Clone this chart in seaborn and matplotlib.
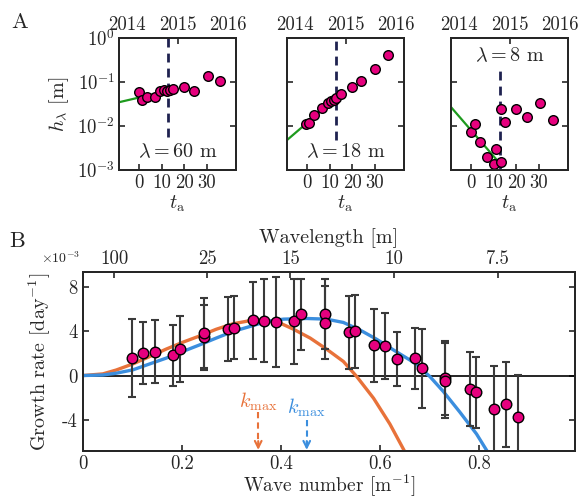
import numpy as np
import pandas as pd
import matplotlib
matplotlib.use("Agg")
import matplotlib.pyplot as plt
import seaborn as sns

# ---------------- Panel A data ----------------
t60 = [-0.3, 1.2, 3.4, 6.8, 9.3, 11.1, 12.3, 13.8, 15.0, 19.7, 24.4, 30.4, 36.0]
h60 = [0.0589, 0.0380, 0.0468, 0.0447, 0.0631, 0.0661, 0.0631, 0.0661, 0.0708, 0.0759, 0.0631, 0.138, 0.107]
t18 = [-0.7, 0.7, 3.0, 6.4, 9.3, 10.4, 11.9, 12.9, 14.8, 19.7, 24.0, 30.1, 36.0]
h18 = [0.0110, 0.0120, 0.0178, 0.0251, 0.0339, 0.0372, 0.0389, 0.0427, 0.0537, 0.0776, 0.105, 0.200, 0.417]
t8 = [-0.3, 1.6, 3.8, 7.1, 10.0, 11.2, 13.0, 13.3, 15.2, 20.1, 24.6, 30.5, 36.4]
h8 = [0.00741, 0.0112, 0.00427, 0.00200, 0.00135, 0.00302, 0.00155, 0.0245, 0.0123, 0.0245, 0.0162, 0.0339, 0.0138]
fit_t = [-9.0, 12.7]
fit60 = [0.0347, 0.0631]
fit18 = [0.00479, 0.0427]
fit8 = [0.0269, 0.00141]
t_dash = 12.7
dash_span = [(0.00575, 1.0), (0.0048, 1.0), (0.001, 0.186)]
lambdas = ["60", "18", "8"]
ta_ticks = [0, 10, 20, 30]
year_ticks = [-5.4, 17, 39.4]
year_labels = ["2014", "2015", "2016"]
h_ticks = [1e-3, 1e-2, 1e-1, 1e0]
h_labels = [r"$10^{-3}$", r"$10^{-2}$", r"$10^{-1}$", r"$10^{0}$"]

# ---------------- Panel B data ----------------
k = [0.0997, 0.122, 0.145, 0.182, 0.196, 0.245, 0.245, 0.292, 0.306, 0.343, 0.366, 0.390,
     0.427, 0.440, 0.489, 0.489, 0.537, 0.549, 0.587, 0.611, 0.635, 0.671, 0.684, 0.731,
     0.731, 0.782, 0.794, 0.831, 0.855, 0.879]
g = [1.58, 2.03, 2.18, 1.82, 2.43, 3.49, 3.85, 4.24, 4.36, 5.00, 4.97, 4.85,
     4.91, 5.58, 5.58, 4.79, 3.91, 4.00, 2.73, 2.67, 1.49, 1.55, 0.67, -0.21,
     -0.48, -1.21, -1.51, -3.03, -2.60, -3.78]
gerr = [3.53, 2.80, 2.86, 2.76, 2.98, 2.95, 3.20, 2.88, 2.90, 3.50, 3.77, 4.07,
        3.85, 3.22, 3.21, 3.30, 3.30, 3.28, 3.29, 3.00, 2.48, 2.79, 3.60, 3.36,
        3.40, 3.38, 3.23, 3.91, 3.87, 3.84]
k_or = [0.0, 0.04, 0.067, 0.101, 0.135, 0.168, 0.202, 0.236, 0.269, 0.303, 0.337, 0.354,
        0.391, 0.425, 0.459, 0.492, 0.526, 0.553, 0.587, 0.620, 0.650, 0.665]
g_or = [0.0, 0.15, 0.50, 1.06, 1.73, 2.40, 3.03, 3.60, 4.20, 4.70, 4.98, 5.04,
        4.91, 4.21, 3.40, 2.40, 1.28, -0.09, -2.06, -4.40, -6.90, -8.3]
k_bl = [0.0, 0.04, 0.067, 0.101, 0.135, 0.168, 0.202, 0.236, 0.269, 0.303, 0.337, 0.371,
        0.405, 0.452, 0.492, 0.526, 0.559, 0.593, 0.627, 0.660, 0.674, 0.701, 0.728,
        0.761, 0.795, 0.817, 0.83]
g_bl = [0.0, 0.05, 0.21, 0.52, 1.06, 1.58, 2.19, 2.79, 3.40, 4.00, 4.45, 4.91,
        5.12, 5.18, 5.12, 4.82, 4.15, 3.30, 2.33, 1.42, 1.00, -0.10, -1.45,
        -3.30, -5.30, -6.90, -7.9]
kmax_or, kmax_bl = 0.354, 0.452
arrow_or = (-3.3, -6.75)
arrow_bl = (-4.0, -6.75)
label_y_or, label_y_bl = -2.4, -2.95
k_ticks = [0, 0.2, 0.4, 0.6, 0.8]
k_labels = ["0", "0.2", "0.4", "0.6", "0.8"]
g_ticks = [-4, 0, 4, 8]
g_labels = ["-4", "0", "4", "8"]
wl_ticks = [100, 25, 15, 10, 7.5]
wl_labels = ["100", "25", "15", "10", "7.5"]

PINK = "#E6007E"
GREEN = "#1E9A1E"
NAVY = "#1F2250"
ORANGE = "#E8723A"
BLUE = "#3B8EDE"
ERR = "#3A3A3A"

sns.set_style("ticks")
plt.rcParams["font.family"] = ["cmr10", "DejaVu Serif"]
plt.rcParams["mathtext.fontset"] = "cm"
plt.rcParams["axes.formatter.use_mathtext"] = True
plt.rcParams["axes.linewidth"] = 1.4
plt.rcParams["axes.unicode_minus"] = False

W, H = 582, 498
fig = plt.figure(figsize=(W / 100, H / 100), dpi=100)

TICK_FS = 13.5
LAB_FS = 14.5

def fx(px):
    return px / W

def fy(py):
    return 1 - py / H

panel_lefts = [119, 287, 451]
series = [(t60, h60, fit60), (t18, h18, fit18), (t8, h8, fit8)]
text_y = [0.14, 0.14, 0.865]
for i, (left, (tt, hh, ff)) in enumerate(zip(panel_lefts, series)):
    ax = fig.add_axes([fx(left), fy(170), 117 / W, 132 / H])
    ax.set_yscale("log")
    ax.set_xlim(-9, 43)
    ax.set_ylim(1e-3, 1e0)
    lo, hi = dash_span[i]
    ax.vlines(t_dash, lo, hi, colors=NAVY, linestyles=(0, (3.2, 2.2)), lw=2.0, zorder=2)
    sns.lineplot(x=fit_t, y=ff, ax=ax, color=GREEN, lw=1.6, sort=False, zorder=2.5)
    sns.scatterplot(x=tt, y=hh, ax=ax, color=PINK, edgecolor="black", linewidth=1.0,
                    s=48, zorder=3, legend=False)
    ax.set_xticks(ta_ticks)
    ax.set_xticklabels([str(v) for v in ta_ticks])
    ax.set_yticks(h_ticks)
    ax.yaxis.set_minor_locator(matplotlib.ticker.NullLocator())
    if i == 0:
        ax.set_yticklabels(h_labels)
        ax.set_ylabel(r"$h_\lambda$ [m]", fontsize=LAB_FS, labelpad=4)
    else:
        ax.set_yticklabels([])
    ax.tick_params(axis="both", direction="in", length=4, width=1.2, labelsize=TICK_FS,
                   right=True, pad=3)
    ax.tick_params(axis="x", bottom=False)
    ax.set_xlabel(r"$t_\mathrm{a}$", fontsize=LAB_FS, labelpad=1)
    ax.text(0.5, text_y[i], r"$\lambda = %s$ m" % lambdas[i], transform=ax.transAxes,
            ha="center", va="center", fontsize=LAB_FS)
    top = ax.twiny()
    top.set_xlim(ax.get_xlim())
    top.set_xticks(year_ticks)
    top.set_xticklabels(year_labels)
    top.tick_params(axis="x", direction="in", length=4, width=1.2, labelsize=TICK_FS, pad=3)
    mt = top.xaxis.get_major_ticks()
    for j in (0, 2):
        mt[j].tick1line.set_visible(False)
        mt[j].tick2line.set_visible(False)
    for s in top.spines.values():
        s.set_linewidth(1.4)

fig.text(fx(20), fy(22), "A", fontsize=16, ha="center", va="center")
fig.text(fx(17), fy(241), "B", fontsize=16, ha="center", va="center")

# ---------------- Panel B ----------------
axb = fig.add_axes([fx(83), fy(451), 492 / W, 179 / H])
axb.set_xlim(0, 0.994)
axb.set_ylim(-6.85, 9.4)
axb.axhline(0, color="black", lw=1.2, zorder=1)
sns.lineplot(x=k_or, y=g_or, ax=axb, color=ORANGE, lw=2.4, sort=False, zorder=2)
sns.lineplot(x=k_bl, y=g_bl, ax=axb, color=BLUE, lw=2.4, sort=False, zorder=2)
axb.errorbar(k, g, yerr=gerr, fmt="none", ecolor=ERR, elinewidth=1.5, capsize=3,
             capthick=1.5, zorder=2.5)
sns.scatterplot(x=k, y=g, ax=axb, color=PINK, edgecolor="black", linewidth=1.0,
                s=58, zorder=3, legend=False)
for kk, (a0, a1), ly, col in [(kmax_or, arrow_or, label_y_or, ORANGE),
                              (kmax_bl, arrow_bl, label_y_bl, BLUE)]:
    axb.plot([kk, kk], [a0, a1 + 0.4], color=col, ls=(0, (3, 2)), lw=1.5)
    axb.annotate("", xy=(kk, a1), xytext=(kk, a1 + 0.8),
                 arrowprops=dict(arrowstyle="->", color=col, lw=1.5,
                                 mutation_scale=12, shrinkA=0, shrinkB=0))
    axb.text(kk, ly, r"$k_\mathrm{max}$", color=col, ha="center", va="center",
             fontsize=LAB_FS)
axb.set_xticks(k_ticks)
axb.set_xticklabels(k_labels)
axb.set_yticks(g_ticks)
axb.set_yticklabels(g_labels)
axb.tick_params(axis="both", direction="in", length=4, width=1.2, labelsize=TICK_FS,
                right=True, pad=4)
axb.tick_params(axis="x", pad=3)
axb.set_xlabel(r"Wave number [m$^{-1}$]", fontsize=14, labelpad=0)
axb.set_ylabel(r"Growth rate [day$^{-1}$]", fontsize=LAB_FS, labelpad=6)
axb.text(-0.085, 1.035, r"$\times10^{-3}$", transform=axb.transAxes, ha="left",
         va="bottom", fontsize=10)
topb = axb.twiny()
topb.set_xlim(axb.get_xlim())
topb.set_xticks([2 * np.pi / w for w in wl_ticks])
topb.set_xticklabels(wl_labels)
topb.tick_params(axis="x", direction="in", length=4, width=1.2, labelsize=TICK_FS, pad=3)
topb.set_xlabel("Wavelength [m]", fontsize=LAB_FS, labelpad=5)
for s in topb.spines.values():
    s.set_linewidth(1.4)

fig.savefig("out.png", dpi=100)
